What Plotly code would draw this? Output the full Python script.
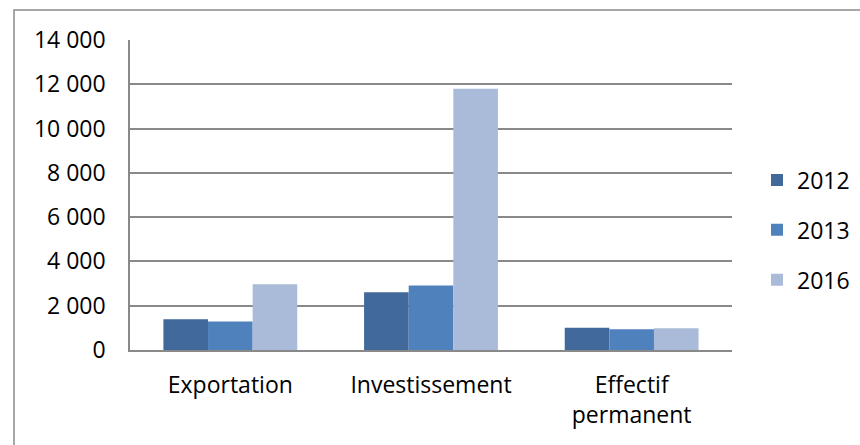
import plotly.graph_objects as go

categories = ["Exportation", "Investissement", "Effectif<br>permanent"]
years = ["2012", "2013", "2016"]
values_2012 = [1390, 2610, 1005]
values_2013 = [1290, 2910, 940]
values_2016 = [2970, 11800, 985]
y_ticks = [0, 2000, 4000, 6000, 8000, 10000, 12000, 14000]

series = [values_2012, values_2013, values_2016]
colors = ["#41699B", "#4F81BD", "#AABBD9"]

fig = go.Figure()
for name, vals, col in zip(years, series, colors):
    fig.add_trace(go.Bar(
        x=categories, y=vals, name=name, legendgroup=name,
        marker=dict(color=col, line=dict(width=0)),
    ))

L, R, T, B = 130, 128, 40, 95
W, H = 860, 445
pw, ph = W - L - R, H - T - B

fig.update_layout(
    width=W, height=H,
    margin=dict(l=L, r=R, t=T, b=B, autoexpand=False),
    paper_bgcolor="white", plot_bgcolor="white",
    barmode="group", bargap=0.333, bargroupgap=0,
    separators=", ",
    font=dict(family="Open Sans", size=23, color="#000000"),
    showlegend=True,
    legend=dict(
        x=(757 - L) / pw, xanchor="left",
        y=(350 - 230) / ph, yanchor="middle",
        font=dict(size=23),
        itemwidth=30, traceorder="grouped", tracegroupgap=17,
        bgcolor="rgba(0,0,0,0)",
    ),
    shapes=[
        dict(type="rect", xref="paper", yref="paper",
             x0=(14 - L) / pw, x1=(880 - L) / pw,
             y0=-(470 - T - ph) / ph, y1=1 + (T - 10) / ph,
             line=dict(color="#8A8A8A", width=1.5), layer="below"),
    ],
)

fig.update_yaxes(
    range=[0, 14000], tickvals=y_ticks, tickformat=",d",
    showgrid=True, gridcolor="#898989", gridwidth=1.5,
    showline=True, linecolor="#898989", linewidth=1.5,
    ticks="", ticklabelstandoff=18, zeroline=False,
    tickfont=dict(size=23),
)
fig.update_xaxes(
    showline=True, linecolor="#898989", linewidth=1.5,
    ticks="", ticklabelstandoff=14,
    tickfont=dict(size=23),
)

fig.write_html("out.html")
